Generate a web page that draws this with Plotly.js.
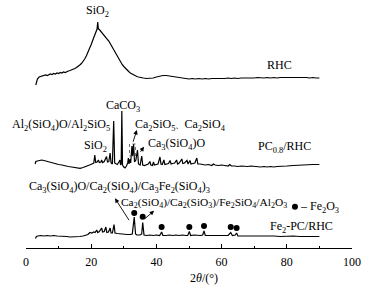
<!DOCTYPE html>
<html>
<head>
<meta charset="utf-8">
<script src="https://cdn.plot.ly/plotly-3.0.1.min.js"></script>
<style>html,body{margin:0;padding:0;background:#fff;}#chart{width:373px;height:294px;}</style>
</head>
<body>
<div id="chart"></div>
<script>
// 2θ (degrees) and stacked intensities (a.u., with vertical offsets as drawn)
const rhcX = [3.0,3.2,3.5,4.0,4.5,5.0,5.5,6.0,6.5,7.0,7.5,8.0,8.5,9.0,9.5,10.0,10.5,11.0,11.5,12.0,12.5,13.0,13.5,14.0,14.5,15.0,15.5,16.0,16.5,17.0,17.5,18.0,18.5,19.0,19.5,20.0,20.5,21.0,21.5,21.8,22.0,22.2,22.5,23.0,23.5,24.0,24.5,25.0,25.5,26.0,26.5,27.0,27.5,28.0,28.5,29.0,29.5,30.0,30.5,31.0,31.5,32.0,32.5,33.0,33.5,34.0,34.5,35.0,35.5,36.0,37.0,38.0,39.0,40.0,41.0,42.0,43.0,44.0,45.0,46.0,47.0,48.0,49.0,50.0,51.0,52.0,53.0,54.0,55.0,56.0,57.0,58.0,59.0,60.0,61.0,62.0,63.0,64.0,65.0,66.0,67.0,68.0,69.0,70.0,71.0,72.0,73.0,74.0,75.0,76.0,77.0,78.0,79.0,80.0,81.0,82.0,83.0,84.0,85.0,86.0,87.0,88.0,89.0,90.0];
const rhcY = [163,167,169,171,171.5,172,172.5,173,172.5,173.5,174,173.5,174.5,174,175,174.5,175.5,175,176,175.5,176.5,177,177.5,178,179,179.5,180.5,181.5,183,184.5,186.5,189,192,195.5,199.5,203.5,208,212.5,216.5,219,226,219,218.5,216.5,215.5,213.5,211.5,209,206.5,203.5,200.5,197.5,194.5,191.5,188.5,186,183.5,181.5,179.5,178,176.5,175,174,173,172.5,171.5,171,170.5,170.5,170,169.5,169.5,170,171,172,172.5,172.5,172,171,170.5,170,169.5,169.5,169,169.5,169,169.5,169,169.5,169,169.5,169.5,169,169.5,169.5,170,169.5,170,169.5,170,170,169.5,170,170,170.5,170,170,170.5,170,170.5,170,170.5,170.5,170.5,171,170.5,170.5,171,170.5,170.5,170,170.5,170,170];

const pcX = [2.8,3.0,3.5,4.0,4.8,5.5,6.0,7.0,8.0,9.0,10.0,11.0,12.0,13.0,14.0,15.0,16.0,16.6,17.5,18.5,19.5,20.2,20.8,21.1,21.4,21.8,22.2,22.5,23.0,23.2,23.5,24.0,24.7,25.0,25.4,25.8,26.1,26.5,26.9,27.2,27.6,28.0,28.5,28.8,29.0,29.2,29.4,29.6,30.0,30.4,30.8,31.2,31.4,31.6,31.9,32.1,32.5,32.7,33.0,33.3,33.7,34.2,34.5,35.0,35.5,35.8,36.3,37.0,37.5,38.0,38.3,38.8,39.1,39.4,40.0,40.5,41.1,41.4,41.8,42.3,42.6,43.2,43.7,44.2,44.5,45.0,45.6,46.2,46.5,47.0,47.8,48.1,48.6,49.4,49.7,50.3,50.6,51.2,51.8,52.4,52.7,53.4,54.0,55.0,56.0,57.0,57.5,58.0,59.0,60.0,61.0,62.0,62.5,63.0,64.0,65.0,66.0,67.0,68.0,69.0,70.0,71.0,72.0,73.0,74.0,75.0,76.0,77.0,78.0,79.0,80.0,82.0,84.0,86.0,88.0,90.0];
const pcY = [84,86.5,87,87.5,88,87.5,87,86.5,85.5,84.5,83.5,83,82,81.5,81,80.5,80,79.7,80.5,81.5,83,84,85,93,85.5,86,88,85.5,86,88,85.5,86.5,91.5,86,86.5,95,85,84,127,85,84,83.5,86,88,83,84,137,83,81,80,82,85,90,84,89,85,102,92,104,86,88,98,84,83,92,83,82.5,83,84,86.5,83,82.5,86,83,83.5,84,91,84,83.5,88,83.5,84,84.5,87.5,84,84.5,85,88,84,85,89,84.5,85,87.5,84,87.5,84,84.5,85,90,84,84,83.5,83,83.5,82.5,84,83,82.5,83,82.5,82,83.5,82,82,81.5,82,81.5,81.5,82,81.5,81.5,81,81.5,81,81.5,81,81.5,81.5,82,82,82.5,83,83,83.5,83.5];

const feX = [2.9,3.2,3.6,4.5,5.5,6.5,7.5,8.5,9.5,10.5,11.5,12.5,13.5,14.5,15.5,16.5,17.5,18.5,19.0,19.6,20.2,20.8,21.2,21.7,22.0,22.5,23.2,23.5,24.0,24.5,24.8,25.3,25.8,26.1,26.5,27.0,27.3,28.0,29.0,30.0,31.0,32.0,32.6,33.2,33.6,34.0,35.0,35.5,35.8,36.2,37.0,38.0,39.0,40.0,41.0,41.6,42.0,43.0,44.0,45.0,46.0,47.0,48.0,49.0,49.6,50.1,50.5,51.5,52.5,53.5,54.2,54.6,55.0,56.0,57.0,58.0,59.0,60.0,61.0,62.0,62.8,63.3,64.2,64.6,65.0,66.0,67.0,68.0,69.0,70.0,72.0,74.0,76.0,78.0,80.0,82.0,84.0,86.0,88.0,90.0];
const feY = [9.5,11.5,12,12.5,12,12.5,12,12.5,12,12,11.5,11.5,11,11,11.5,11.5,12,12.5,13.5,15.5,15,16,15.5,18,15.5,16.5,20,16,16.5,21,15.5,16,20,15,15,23.5,15,14.5,14,14,13.5,13.5,14,31,14,13,13,14,25.5,13,12.5,13,12.5,13,12.5,16,12.5,12.5,13,12.5,13,12.5,13,12.5,12.5,16.5,12.5,13,12.5,12.5,13,17,12.5,12.5,12,12.5,12,12.5,12,12.5,15.5,12.5,13,15,12,12,12.5,12,12,12.5,12,12,12,11.5,12,12,11.5,11.5,11.5,11.5];

// Fe2O3 reflection markers
const dotX = [33.2,35.8,41.6,50.1,54.6,62.8,64.6];
const dotY = [35,31.3,21,21,22,21,20];

const FONT = 'Liberation Serif, Times New Roman, serif';
const line = {color:'#000', width:1.2};

const traces = [
  {x:rhcX, y:rhcY, type:'scatter', mode:'lines', line:line, hoverinfo:'skip'},
  {x:pcX, y:pcY, type:'scatter', mode:'lines', line:line, hoverinfo:'skip'},
  {x:feX, y:feY, type:'scatter', mode:'lines', line:line, hoverinfo:'skip'},
  {x:dotX, y:dotY, type:'scatter', mode:'markers', marker:{color:'#000', size:6}, hoverinfo:'skip'},
  {x:[82.5], y:[41.3], type:'scatter', mode:'markers', marker:{color:'#000', size:6}, hoverinfo:'skip'}
];

function txt(x, y, text, anchor, size) {
  return {x:x, y:y, xref:'x', yref:'y', text:text, showarrow:false,
          xanchor:anchor||'center', yanchor:'middle',
          font:{family:FONT, size:size||12, color:'#000'}};
}
function arr(hx, hy, tx, ty) {
  return {x:hx, y:hy, ax:tx, ay:ty, xref:'x', yref:'y', axref:'x', ayref:'y',
          text:'', showarrow:true, arrowhead:2, arrowsize:1, arrowwidth:0.9, arrowcolor:'#000'};
}

const annotations = [
  txt(21.9, 237.5, 'SiO<sub>2</sub>'),
  txt(77.9, 183, 'RHC'),
  txt(29.9, 142, 'CaCO<sub>3</sub>'),
  txt(26.3, 123, 'Al<sub>2</sub>(SiO<sub>4</sub>)O/Al<sub>2</sub>SiO<sub>5</sub>', 'right'),
  txt(32.7, 123, 'Ca<sub>2</sub>SiO<sub>5</sub><span style="font-size:9px">、</span>Ca<sub>2</sub>SiO<sub>4</sub>', 'left'),
  txt(21.2, 102.5, 'SiO<sub>2</sub>'),
  txt(36.8, 104, 'Ca<sub>3</sub>(SiO<sub>4</sub>)O', 'left'),
  txt(79.4, 101.3, 'PC<sub>0.8</sub>/RHC'),
  txt(0.2, 61.3, 'Ca<sub>3</sub>(SiO<sub>4</sub>)O/Ca<sub>2</sub>(SiO<sub>4</sub>)/Ca<sub>3</sub>Fe<sub>2</sub>(SiO<sub>4</sub>)<sub>3</sub>', 'left'),
  txt(28.5, 44.7, 'Ca<sub>2</sub>(SiO<sub>4</sub>)/Ca<sub>2</sub>(SiO<sub>3</sub>)/Fe<sub>2</sub>SiO<sub>4</sub>/Al<sub>2</sub>O<sub>3</sub>', 'left', 11.4),
  txt(83.3, 41.3, '– Fe<sub>2</sub>O<sub>3</sub>', 'left'),
  txt(84.6, 21.3, 'Fe<sub>2</sub>-PC/RHC'),
  arr(34.0, 118, 32.7, 104.7),
  arr(36.2, 101.3, 34.8, 94.7),
  arr(27.3, 49.7, 31.9, 26.3),
  arr(39.3, 37.3, 36.0, 28),
  {x:0.546, y:-0.121, xref:'paper', yref:'paper', text:'2<i>θ</i>/(°)', showarrow:false,
   xanchor:'center', yanchor:'middle', font:{family:FONT, size:12, color:'#000'}}
];

const layout = {
  width:373, height:294,
  margin:{l:26, r:21, t:0, b:46, pad:0},
  paper_bgcolor:'#fff', plot_bgcolor:'#fff',
  showlegend:false,
  font:{family:FONT, size:12, color:'#000'},
  xaxis:{range:[0,100], showline:true, linecolor:'#000', linewidth:1,
         ticks:'inside', ticklen:4, tickwidth:1, tickcolor:'#000', dtick:20, tick0:0,
         ticklabelstandoff:3,
         minor:{dtick:10, ticks:'inside', ticklen:2, tickcolor:'#000'},
         showgrid:false, zeroline:false, tickfont:{family:FONT, size:12, color:'#000'}},
  yaxis:{range:[0,248], visible:false, fixedrange:true},
  shapes:[{type:'rect', xref:'x', yref:'y', x0:31.75, x1:33.6, y0:92, y1:104,
           line:{color:'#444', width:0.8, dash:'dot'}}],
  annotations:annotations
};

Plotly.newPlot('chart', traces, layout, {staticPlot:true, displayModeBar:false});
</script>
</body>
</html>
